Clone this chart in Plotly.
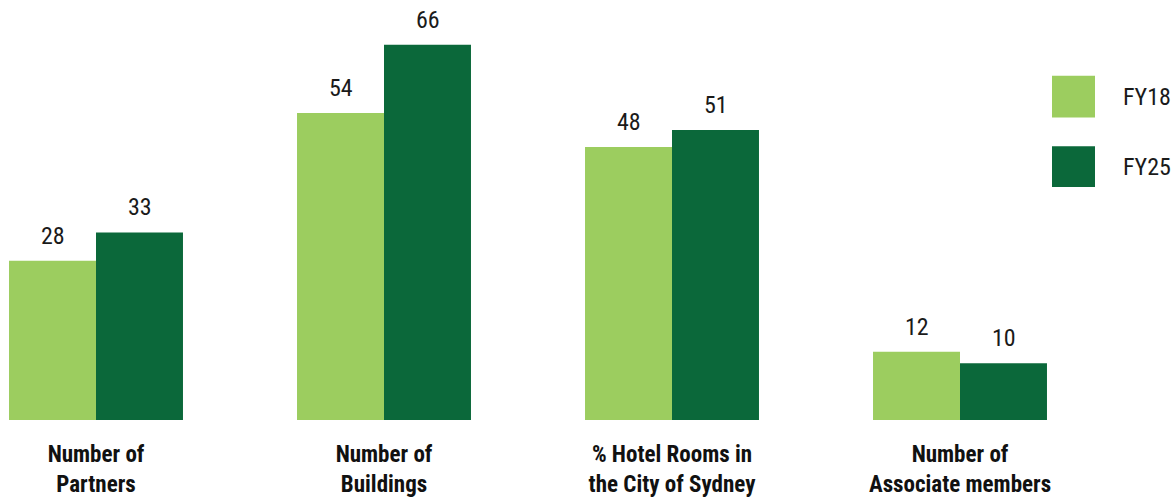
import plotly.graph_objects as go

categories = ["<b>Number of</b><br><b>Partners</b>",
              "<b>Number of</b><br><b>Buildings</b>",
              "<b>% Hotel Rooms in</b><br><b>the City of Sydney</b>",
              "<b>Number of</b><br><b>Associate members</b>"]
series_names = ["FY18", "FY25"]
fy18 = [28, 54, 48, 12]
fy25 = [33, 66, 51, 10]
colors = ["#9CCD5F", "#0B683A"]

W, H = 1175, 498
BASE = 422
FONT = "Liberation Sans Narrow, Roboto Condensed, DejaVu Sans Condensed, Roboto, sans-serif"

x_idx = list(range(len(categories)))
fig = go.Figure()
for name, vals, col in zip(series_names, [fy18, fy25], colors):
    fig.add_trace(go.Bar(x=x_idx, y=vals, name=name, marker_color=col,
                         marker_line_width=0, showlegend=False))

# value labels
annotations = []
for vals, shift in [(fy18, -43.5), (fy25, 43.5)]:
    for xi, v in zip(x_idx, vals):
        annotations.append(dict(x=xi, y=v, xref="x", yref="y", text=str(v),
                                showarrow=False, xshift=shift, yanchor="bottom",
                                yshift=9, font=dict(size=24, color="#1a1a1a", family=FONT)))

# custom legend (pixel positions)
def px(p):
    return p / W
def py(p):
    return (BASE - p) / BASE
shapes = []
leg = [(76, 118, 97), (147, 188, 168)]
for (y0, y1, yc), name, col in zip(leg, series_names, colors):
    shapes.append(dict(type="rect", xref="paper", yref="paper",
                       x0=px(1052), x1=px(1095), y0=py(y1), y1=py(y0),
                       fillcolor=col, line_width=0))
    annotations.append(dict(x=px(1121), y=py(yc), xref="paper", yref="paper",
                            text=name, showarrow=False, xanchor="left", yanchor="middle",
                            font=dict(size=24, color="#1a1a1a", family=FONT)))

x0 = -96 / 288
fig.update_layout(
    width=W, height=H,
    margin=dict(l=0, r=0, t=0, b=H - BASE),
    plot_bgcolor="white", paper_bgcolor="white",
    barmode="group", bargap=0.396, bargroupgap=0,
    xaxis=dict(range=[x0, x0 + W / 288], tickmode="array",
               tickvals=x_idx, ticktext=categories, showgrid=False, zeroline=False,
               showline=False, ticks="outside", ticklen=13, tickcolor="rgba(0,0,0,0)",
               tickfont=dict(size=23, color="#111", family=FONT)),
    yaxis=dict(range=[0, BASE / 5.712], visible=False),
    shapes=shapes, annotations=annotations,
)
fig.write_html("out.html", config={"displayModeBar": False},
               post_script="document.body.style.margin='0';document.body.style.overflow='hidden';")
